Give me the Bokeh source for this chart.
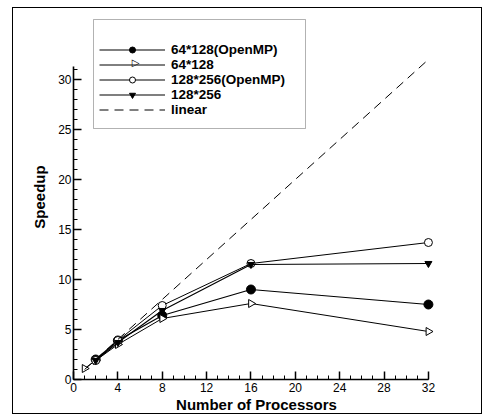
import math
from bokeh.plotting import figure
from bokeh.models import Legend, LegendItem, FixedTicker, BoxAnnotation, Label
from bokeh.embed import file_html
from bokeh.resources import INLINE

# data
procs_omp64 = [2, 4, 8, 16, 32]
speed_omp64 = [2.0, 3.9, 6.4, 9.0, 7.5]
procs_mpi64 = [1, 2, 4, 8, 16, 32]
speed_mpi64 = [1.1, 1.9, 3.5, 6.1, 7.6, 4.8]
procs_omp128 = [2, 4, 8, 16, 32]
speed_omp128 = [1.9, 3.9, 7.4, 11.6, 13.7]
procs_mpi128 = [2, 4, 8, 16, 32]
speed_mpi128 = [1.9, 3.7, 6.9, 11.5, 11.6]
procs_linear = [1, 32]
speed_linear = [1, 32]
x_ticks = [0, 4, 8, 12, 16, 20, 24, 28, 32]
y_ticks = [0, 5, 10, 15, 20, 25, 30]
series_labels = ["64*128(OpenMP)", "64*128", "128*256(OpenMP)", "128*256", "linear"]

FONT = "Liberation Sans"

p = figure(width=470, height=407, output_backend="svg", toolbar_location=None,
           x_range=(0, 33), y_range=(0, 36.5),
           min_border_left=60, min_border_right=44, min_border_top=6, min_border_bottom=36)
p.styles = {"border": "1px solid black", "margin-left": "12px", "margin-top": "7px"}
p.outline_line_color = None
p.grid.visible = False
p.background_fill_color = "white"

for ax in (p.xaxis[0], p.yaxis[0]):
    ax.axis_line_width = 1.6
    ax.axis_line_color = "black"
    ax.major_tick_in = 8
    ax.major_tick_out = 0
    ax.minor_tick_in = 4
    ax.minor_tick_out = 0
    ax.major_tick_line_width = 1.5
    ax.minor_tick_line_width = 1
    ax.major_label_text_font = FONT
    ax.major_label_text_font_size = "12px"
    ax.major_label_text_color = "black"
    ax.axis_label_text_font = FONT
    ax.axis_label_text_font_size = "15px"
    ax.axis_label_text_font_style = "bold"
    ax.axis_label_text_color = "black"

p.xaxis[0].ticker = FixedTicker(ticks=x_ticks, minor_ticks=list(range(0, 33)))
p.yaxis[0].ticker = FixedTicker(ticks=y_ticks, minor_ticks=list(range(0, 32)))
p.xaxis[0].bounds = (0, 32)
p.yaxis[0].bounds = (0, 31.3)
p.xaxis[0].axis_label = "Number of Processors"
p.yaxis[0].axis_label = "Speedup"
p.xaxis[0].major_label_standoff = 3
p.xaxis[0].axis_label_standoff = 1
p.yaxis[0].major_label_standoff = 2
p.yaxis[0].axis_label_standoff = 7

l1 = p.line(procs_omp64, speed_omp64, line_color="black", line_width=1.2)
m1 = p.scatter(procs_omp64, speed_omp64, marker="circle", size=9, fill_color="black", line_color="black")
l2 = p.line(procs_mpi64, speed_mpi64, line_color="black", line_width=1)
m2 = p.scatter(procs_mpi64, speed_mpi64, marker="triangle", angle=-math.pi / 2, size=8,
               fill_color="white", line_color="black")
l3 = p.line(procs_omp128, speed_omp128, line_color="black", line_width=1)
m3 = p.scatter(procs_omp128, speed_omp128, marker="circle", size=8, fill_color="white", line_color="black")
l4 = p.line(procs_mpi128, speed_mpi128, line_color="black", line_width=1.2)
m4 = p.scatter(procs_mpi128, speed_mpi128, marker="inverted_triangle", size=7,
               fill_color="black", line_color="black")
l5 = p.line(procs_linear, speed_linear, line_color="black", line_width=1, line_dash="9 6")

# legend frame (layout only, screen pixels relative to the plot frame)
box = BoxAnnotation(left=20, right=232, bottom=251, top=360,
                    left_units="screen", right_units="screen",
                    bottom_units="screen", top_units="screen",
                    fill_color="white", fill_alpha=1, line_color="black", line_width=1,
                    level="underlay")
p.add_layout(box)

legend = Legend(items=[
    LegendItem(label=series_labels[0], renderers=[l1, m1]),
    LegendItem(label=series_labels[1], renderers=[l2]),
    LegendItem(label=series_labels[2], renderers=[l3, m3]),
    LegendItem(label=series_labels[3], renderers=[l4, m4]),
    LegendItem(label=series_labels[4], renderers=[l5]),
], location=(26, 262))
legend.border_line_color = None
legend.background_fill_alpha = 0
legend.padding = 0
legend.margin = 0
legend.spacing = 0
legend.label_height = 15
legend.glyph_height = 15
legend.glyph_width = 66
legend.label_standoff = 6
legend.label_text_font = FONT
legend.label_text_font_size = "13.5px"
legend.label_text_font_style = "bold"
legend.label_text_color = "black"
p.add_layout(legend, "center")

# right-pointing open triangle for the "64*128" legend entry
tri = Label(x=62, y=317, x_units="screen", y_units="screen", text="\u25B7",
            text_font="DejaVu Sans", text_font_size="10px", text_color="black",
            text_align="center", text_baseline="middle",
            background_fill_color="white", background_fill_alpha=0)
p.add_layout(tri)

open("out.html", "w").write(file_html(p, INLINE))
